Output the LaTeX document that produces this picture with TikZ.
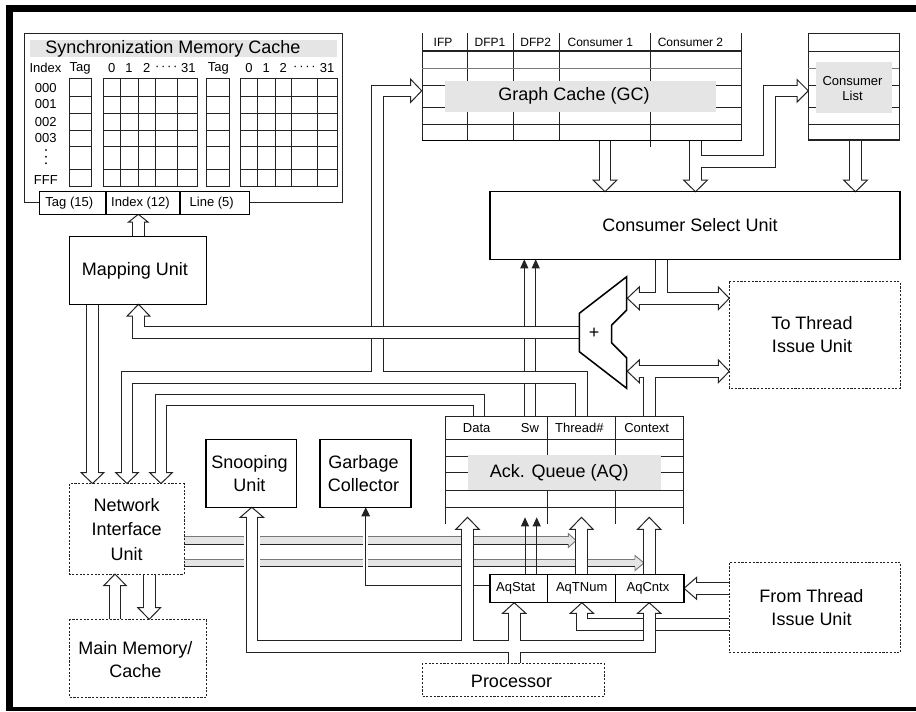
\documentclass[tikz,border=0pt]{standalone}
\usepackage{fontspec}
\setmainfont{Liberation Sans}
\usetikzlibrary{arrows.meta}
\definecolor{lg}{RGB}{229,229,229}
\definecolor{dg}{RGB}{35,35,35}
\definecolor{mg}{RGB}{120,120,120}
\newcommand\hhd[4]{\filldraw[thinl, fill=white, shift={#1}, rotate=#2] (0,0) -- (-#3,#4) -- (-#3,-#4) -- cycle;}
\newcommand\ghd[4]{\filldraw[line width=0.7pt, draw=mg, fill=lg, shift={#1}, rotate=#2] (0,0) -- (-#3,#4) -- (-#3,-#4) -- cycle;}
\begin{document}
\begin{tikzpicture}[x=0.75pt,y=-0.75pt,
 thinl/.style={line width=0.75pt, draw=dg, line join=miter},
 boxl/.style={line width=1.15pt, draw=black},
 dsh/.style={line width=0.7pt, draw=dg, dash pattern=on 1.6pt off 1.2pt},
 bo/.style={line width=9.45pt, draw=dg, line cap=butt, line join=miter},
 bi/.style={line width=7.95pt, draw=white, line cap=butt, line join=miter},
 big/.style={font=\fontsize{13.5}{17.25}\selectfont, inner sep=0pt, align=center},
 sml/.style={font=\fontsize{9.75}{12}\selectfont, inner sep=0pt, align=center},
 tny/.style={font=\fontsize{9}{11}\selectfont, inner sep=0pt},
 fa/.style={thinl, -{Triangle[length=6.8pt,width=6pt]}},
]
\useasboundingbox (0,0) rectangle (916,711);
% frame
\fill[black] (6,5) rectangle (916,11.7);
\fill[black] (6,5) rectangle (12.7,711);
\fill[black] (6,707) rectangle (916,711);

% ---------- upper single-line arrows (under bands)
\draw[fa] (524.3,416.7) -- (524.3,259.3);
\draw[fa] (535.7,416.7) -- (535.7,259.3);

% ---------- NIU <- Thread# with branch to GC
\draw[bo] (127,472.5) -- (127,377.5) -- (581.5,377.5) -- (581.5,416.7);
\draw[bo] (377.5,377.5) -- (377.5,90.8) -- (410.7,90.8);
\hhd{(127,483.5)}{-90}{11}{11.5}
\hhd{(421.7,90.8)}{0}{11}{11.5}
\draw[bi] (127,474) -- (127,377.5) -- (581.5,377.5) -- (581.5,416.7);
\draw[bi] (377.5,377.5) -- (377.5,90.8) -- (412.2,90.8);

% ---------- NIU <- Data
\draw[bo] (161,472.5) -- (161,400) -- (479,400) -- (479,416.7);
\hhd{(161,483.5)}{-90}{11}{11.5}
\draw[bi] (161,474) -- (161,400) -- (479,400) -- (479,416.7);

% ---------- Mapping Unit -> NIU
\draw[bo] (92.5,304.3) -- (92.5,472.5);
\hhd{(92.5,483.5)}{-90}{11}{11.5}
\draw[bi] (92.5,304.3) -- (92.5,474);

% ---------- mux -> Mapping Unit (over)
\draw[bo] (138.5,316) -- (138.5,332.5) -- (579.3,332.5);
\hhd{(138.5,304.3)}{90}{11.7}{11.3}
\draw[bi] (138.5,314.5) -- (138.5,332.5) -- (579.3,332.5);

% ---------- Mapping Unit -> Index
\draw[bo] (138.3,236.7) -- (138.3,222);
\hhd{(138.3,214.3)}{90}{7.7}{9.7}
\draw[bi] (138.3,236.7) -- (138.3,220.5);

% ---------- GC -> CSU
\draw[bo] (605,140.7) -- (605,180);
\hhd{(605,191.7)}{-90}{11.7}{12}
\draw[bi] (605,140.7) -- (605,181.5);
\draw[bo] (695.5,140.7) -- (695.5,180);
\draw[bo] (695.5,161.5) -- (769.2,161.5) -- (769.2,90.8) -- (797,90.8);
\hhd{(695.5,191.7)}{-90}{11.7}{12}
\hhd{(808.3,90.8)}{0}{11.3}{11.3}
\draw[bi] (695.5,140.7) -- (695.5,181.5);
\draw[bi] (695.5,161.5) -- (769.2,161.5) -- (769.2,90.8) -- (798.5,90.8);
% Consumer List -> CSU
\draw[bo] (855.5,140) -- (855.5,180);
\hhd{(855.5,191.7)}{-90}{11.7}{12}
\draw[bi] (855.5,140) -- (855.5,181.5);

% ---------- CSU -> mux / To TIU
\draw[bo] (639.3,298.3) -- (718.3,298.3);
\draw[bo] (661.2,259.3) -- (661.2,298.3);
\hhd{(627.3,298.3)}{180}{12}{11.4}
\hhd{(729.3,298.3)}{0}{11}{11.4}
\draw[bi] (637.8,298.3) -- (719.8,298.3);
\draw[bi] (661.2,259.3) -- (661.2,298.3);
% Context -> mux / To TIU
\draw[bo] (639.3,371.3) -- (718.3,371.3);
\draw[bo] (649.5,416.7) -- (649.5,371.3);
\hhd{(627.3,371.3)}{180}{12}{11.4}
\hhd{(729.3,371.3)}{0}{11}{11.4}
\draw[bi] (637.8,371.3) -- (719.8,371.3);
\draw[bi] (649.5,416.7) -- (649.5,371.3);

% ---------- grey bands from NIU
\ghd{(576,540.5)}{0}{7.7}{7}
\fill[lg] (184,536.7) rectangle (569,544.3);
\draw[line width=0.7pt, draw=mg] (184,536.7) -- (568.3,536.7);
\draw[thinl] (184,544.3) -- (568.3,544.3);
\ghd{(644,563)}{0}{9}{7.5}
\fill[lg] (184,559.3) rectangle (635.7,566.7);
\draw[line width=0.7pt, draw=mg] (184,559.3) -- (635,559.3);
\draw[thinl] (184,566.7) -- (635,566.7);
\fill[white] (243.5,532) rectangle (260.2,571);

% ---------- From TIU bands
\draw[bo] (729.3,624.7) -- (581.9,624.7) -- (581.9,613.3);
\draw[bo] (729.3,588.3) -- (696.7,588.3);
\hhd{(581.9,602.7)}{90}{10.6}{11.6}
\hhd{(684,588.3)}{180}{12.7}{11}
\draw[bi] (729.3,624.7) -- (581.9,624.7) -- (581.9,611.8);
\draw[bi] (729.3,588.3) -- (695.2,588.3);

% ---------- AqTNum -> Thread#, AqCntx -> Context
\draw[bo] (581.5,574.3) -- (581.5,529.3);
\hhd{(581.5,517.3)}{90}{12}{11.6}
\draw[bi] (581.5,574.3) -- (581.5,527.8);
\draw[bo] (649.2,574.3) -- (649.2,529.3);
\hhd{(649.2,517.3)}{90}{12}{11.6}
\draw[bi] (649.2,574.3) -- (649.2,527.8);

% ---------- AqStat -> Sw
\draw[fa] (525,574.3) -- (525,517.3);
\draw[fa] (536.7,574.3) -- (536.7,517.3);

% ---------- AqStat -> Garbage Collector
\draw[white, line width=3.5pt] (365.7,530) -- (365.7,572);
\draw[thinl, -{Triangle[length=6.8pt,width=6.5pt]}] (490,585.3) -- (365.7,585.3) -- (365.7,507.3);

% ---------- Processor group
\draw[bo] (251.85,517.3) -- (251.85,646.7) -- (649.2,646.7) -- (649.2,613.3);
\draw[bo] (467.5,529.3) -- (467.5,646.7);
\draw[bo] (514.2,663.3) -- (514.2,613.3);
\hhd{(251.85,507.3)}{90}{10}{11.65}
\hhd{(467.5,517.3)}{90}{12}{11.65}
\hhd{(514.2,602.7)}{90}{10.6}{11.65}
\hhd{(649.2,602.7)}{90}{10.6}{11.65}
\draw[bi] (251.85,515.8) -- (251.85,646.7) -- (649.2,646.7) -- (649.2,611.8);
\draw[bi] (467.5,527.8) -- (467.5,646.7);
\draw[bi] (514.2,663.3) -- (514.2,611.8);

% ---------- NIU <-> Main Memory
\draw[bo] (115,619.3) -- (115,585.7);
\hhd{(115,574)}{90}{11.7}{11.3}
\draw[bi] (115,619.3) -- (115,584.2);
\draw[bo] (149.2,574) -- (149.2,607.7);
\hhd{(149.2,619.3)}{-90}{11.6}{11.3}
\draw[bi] (149.2,574) -- (149.2,609.2);

% ---------- Synchronization Memory Cache
\draw[thinl] (24,33.3) rectangle (342.3,202.3);
\fill[lg] (30,40) rectangle (337,57.3);
\node[big, anchor=west] (smct) at (45,49) {Synchronization Memory Cache};
\node[sml] (hidx) at (45.5,68.3) {Index};
\node[sml] (htga) at (80,68.3) {Tag};
\node[sml] (h0a) at (111.7,68.3) {0};
\node[sml] (h1a) at (129,68.3) {1};
\node[sml] (h2a) at (146.7,68.3) {2};
\node[sml] (hda) at (166.3,68.3) {·\hspace{1.3pt}·\hspace{1.3pt}·\hspace{1.3pt}·};
\node[sml] (h31a) at (188.3,68.3) {31};
\node[sml] (htgb) at (218.3,68.3) {Tag};
\node[sml] (h0b) at (249,68.3) {0};
\node[sml] (h1b) at (266.3,68.3) {1};
\node[sml] (h2b) at (283.3,68.3) {2};
\node[sml] (hdb) at (304.5,68.3) {·\hspace{1.3pt}·\hspace{1.3pt}·\hspace{1.3pt}·};
\node[sml] (h31b) at (327,68.3) {31};
\node[sml] (r0) at (45.8,88.3) {000};
\node[sml] (r1) at (45.8,104.3) {001};
\node[sml] (r2) at (45.8,121.7) {002};
\node[sml] (r3) at (45.8,137.7) {003};
\node[sml] (rf) at (45.8,180) {FFF};
\foreach \y in {150,156.7,163.3} \fill[dg] (46,\y) circle (1.1);
\foreach \a/\b in {69.3/91.7, 103.3/197.3, 206.7/229.3, 240.7/337.3} {
  \draw[thinl] (\a,78.3) rectangle (\b,186.7);
  \foreach \y in {96.7,113.3,130,146.7,169.3} \draw[thinl] (\a,\y) -- (\b,\y);
}
\foreach \x in {120.7,138.3,155.7,177.7,257.7,275,291.7,317.3} \draw[thinl] (\x,78.3) -- (\x,186.7);
\filldraw[boxl, fill=white] (39.3,191.7) rectangle (249.3,214.3);
\draw[boxl] (106,191.7) -- (106,214.3);
\draw[boxl] (180,191.7) -- (180,214.3);
\node[sml] (ftag) at (69.3,203) {Tag (15)};
\node[sml] (fidx) at (140.5,203) {Index (12)};
\node[sml] (flin) at (211.7,203) {Line (5)};

% ---------- Graph Cache
\foreach \x in {422.3,467.7,513.3,559,741} \draw[thinl] (\x,33) -- (\x,140.7);
\draw[thinl] (650,33) -- (650,146.7);
\draw[line width=1pt, draw=dg] (422.3,51) -- (741,51);
\draw[line width=0.7pt, draw=mg] (422.3,68.3) -- (741,68.3);
\foreach \y in {85,107.3,124} \draw[thinl] (422.3,\y) -- (741,\y);
\draw[boxl] (421.8,140.7) -- (741.5,140.7);
\fill[lg] (445,81) rectangle (715.7,111.7);
\node[big] (gc) at (574,96.3) {Graph Cache (GC)};
\node[tny] (gifp) at (443,42.5) {IFP};
\node[tny] (gd1) at (490,42.5) {DFP1};
\node[tny] (gd2) at (535.8,42.5) {DFP2};
\node[tny] (gc1) at (600.3,42.5) {Consumer 1};
\node[tny] (gc2) at (690.5,42.5) {Consumer 2};

% ---------- Consumer List
\draw[line width=1pt, draw=dg] (808.3,33.3) rectangle (899.3,140);
\foreach \y in {51,85,107.3,124} \draw[thinl] (808.3,\y) -- (899.3,\y);
\draw[line width=0.7pt, draw=mg] (808.3,68.3) -- (899.3,68.3);
\fill[lg] (816,61.7) rectangle (892,113.3);
\node[sml] (cl) at (852.5,88.3) {Consumer\\[-0.8pt]List};

% ---------- Ack Queue
\draw[thinl] (445.7,524) -- (445.7,416.7) -- (683.3,416.7) -- (683.3,524);
\draw[thinl] (547.7,416.7) -- (547.7,524);
\draw[thinl] (615.7,416.7) -- (615.7,524);
\foreach \y in {439.3,456.7,472.7,490,507.3} \draw[thinl] (445.7,\y) -- (683.3,\y);
\fill[lg] (468.3,455) rectangle (660.7,490);
\node[big] (aq) at (559.2,472.7) {Ack. Queue (AQ)};
\node[sml] (adata) at (476.7,428.3) {Data};
\node[sml] (asw) at (530,428.3) {Sw};
\node[sml] (athr) at (579.3,428.3) {Thread\#};
\node[sml] (actx) at (646.7,428.3) {Context};

% AqStat boxes
\draw[boxl] (490,574.3) rectangle (684,602.7);
\draw[boxl] (547.7,574.3) -- (547.7,602.7);
\draw[boxl] (615.7,574.3) -- (615.7,602.7);
\node[sml] (aqs) at (515.7,588.5) {AqStat};
\node[sml] (aqt) at (581.7,588.5) {AqTNum};
\node[sml] (aqc) at (648,588.5) {AqCntx};

% ---------- mux
\filldraw[boxl, fill=white, line join=miter] (579.3,313.3) -- (626.7,276.7) -- (626.7,310) -- (611.7,325) -- (611.7,343) -- (626.7,358) -- (626.7,388.3) -- (579.3,351.7) -- cycle;
\node[big] (plus) at (594,333) {+};

% ---------- solid boxes
\draw[boxl] (490,191.7) rectangle (900,259.3);
\node[big] (csu) at (690,225.5) {Consumer Select Unit};
\draw[boxl] (69.3,236.7) rectangle (206.7,304.3);
\node[big] (mu) at (135,270.5) {Mapping Unit};
\draw[boxl] (206,439.3) rectangle (296.7,507.3);
\node[big] (snoop) at (249.5,473.5) {Snooping\\Unit};
\draw[boxl] (320,439.3) rectangle (411,507.3);
\node[big] (garb) at (363.5,473.5) {Garbage\\Collector};

% ---------- dashed boxes
\draw[dsh] (69.3,483.5) rectangle (184,574);
\node[big] (niu) at (126.7,529.5) {Network\\[1pt]Interface\\[1pt]Unit};
\draw[dsh] (69.3,619.3) rectangle (206.7,697.3);
\node[big] (mm) at (135.5,660) {Main Memory/\\Cache};
\draw[dsh] (422.3,663.3) rectangle (604,696.7);
\node[big] (proc) at (511.5,681) {Processor};
\draw[dsh] (729.3,281.7) rectangle (900,388.3);
\node[big] (ttiu) at (812,334.5) {To Thread\\Issue Unit};
\draw[dsh] (729.3,562.7) rectangle (900.7,652.3);
\node[big] (ftiu) at (811.5,608) {From Thread\\Issue Unit};
\end{tikzpicture}
\end{document}
